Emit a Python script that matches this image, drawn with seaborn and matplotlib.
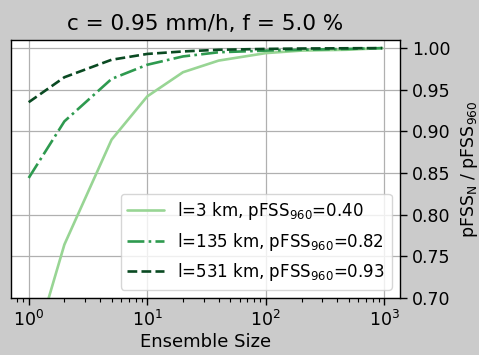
import numpy as np
import pandas as pd
import matplotlib
matplotlib.use("Agg")
import matplotlib.pyplot as plt
import seaborn as sns

ens_size = [1, 2, 5, 10, 20, 40, 100, 200, 480, 960]
l3_vals = [0.618, 0.764, 0.890, 0.942, 0.971, 0.985, 0.994, 0.997, 0.998, 1.000]
l135_vals = [0.844, 0.912, 0.963, 0.980, 0.990, 0.995, 0.997, 0.998, 0.999, 1.000]
l531_vals = [0.935, 0.965, 0.986, 0.993, 0.996, 0.998, 0.999, 0.9995, 0.9998, 1.000]
labels = ["l=3 km, pFSS$_{960}$=0.40",
          "l=135 km, pFSS$_{960}$=0.82",
          "l=531 km, pFSS$_{960}$=0.93"]
colors = ["#98d594", "#2e9a4f", "#0a4a22"]
styles = ["-", "-.", "--"]

sns.set_style("whitegrid")
plt.rcParams["font.family"] = ["DejaVu Sans"]
plt.rcParams["text.color"] = "black"
plt.rcParams["axes.labelcolor"] = "black"
plt.rcParams["xtick.color"] = "black"
plt.rcParams["ytick.color"] = "black"

fig = plt.figure(figsize=(4.79, 3.55), dpi=100)
fig.patch.set_facecolor("#cbcbcb")
ax = fig.add_axes([0.023, 0.161, 0.812, 0.726])
ax.set_facecolor("white")

for vals, lab, col, ls in zip([l3_vals, l135_vals, l531_vals], labels, colors, styles):
    df = pd.DataFrame({"N": ens_size, "v": vals})
    sns.lineplot(data=df, x="N", y="v", ax=ax, color=col, linestyle=ls,
                 linewidth=1.9, label=lab)

ax.set_xscale("log")
ax.set_ylim(0.70, 1.0096)
ax.yaxis.tick_right()
ax.yaxis.set_label_position("right")
ax.set_yticks([0.70, 0.75, 0.80, 0.85, 0.90, 0.95, 1.00])
ax.set_yticklabels(["0.70", "0.75", "0.80", "0.85", "0.90", "0.95", "1.00"])
ax.grid(True, which="major", color="#b0b0b0", linewidth=0.9)
ax.grid(False, which="minor")
for s in ax.spines.values():
    s.set_color("black")
    s.set_linewidth(1.0)
ax.tick_params(axis="both", which="major", labelsize=12.5, direction="out",
               length=5, width=1, colors="black", bottom=True, right=True, left=False)
ax.tick_params(axis="x", which="minor", direction="out", length=3, width=0.8,
               colors="black", bottom=True)
ax.set_xlabel("Ensemble Size", fontsize=13, labelpad=2, color="black")
ax.set_ylabel("pFSS$_{\\mathrm{N}}$ / pFSS$_{960}$", fontsize=12.5, labelpad=6, color="black")
ax.set_title("c = 0.95 mm/h, f = 5.0 %", fontsize=15.5, pad=7, color="black")
leg = ax.legend(loc="lower right", fontsize=12, frameon=True, framealpha=0.8,
                handlelength=2.2)
for t in leg.get_texts():
    t.set_color("black")

fig.savefig("out.png", dpi=100, facecolor=fig.get_facecolor())
